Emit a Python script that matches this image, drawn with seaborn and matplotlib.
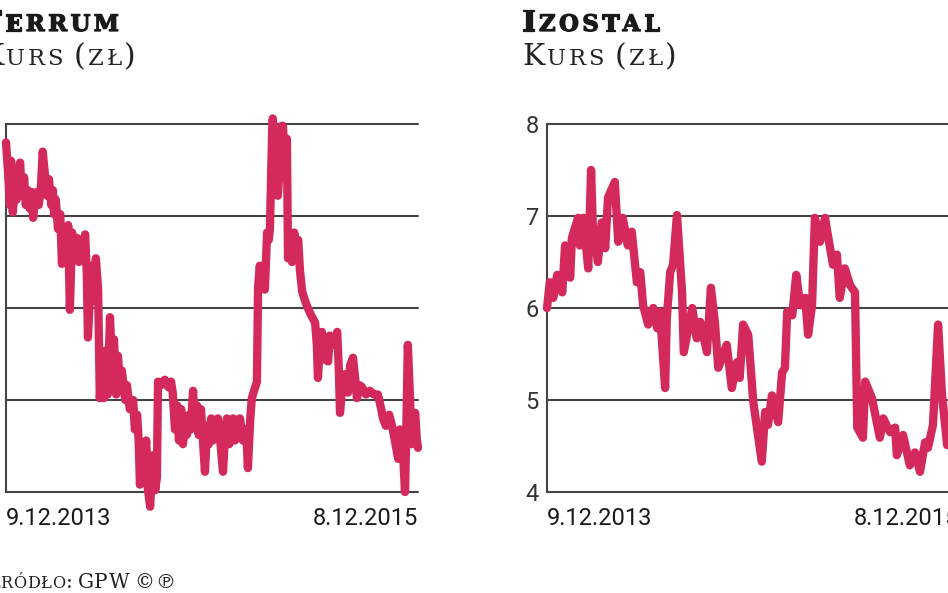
import pandas as pd
import matplotlib.pyplot as plt
import matplotlib.patheffects as pe
import seaborn as sns

# period shown on both charts
start = pd.Timestamp("2013-12-09")
end = pd.Timestamp("2015-12-08")
date_labels = ["9.12.2013", "8.12.2015"]

# Ferrum - days since 9.12.2013 and price (zl)
ferrum_days = [0, 4, 7, 9, 12, 16, 19, 23, 25, 28, 32, 35, 39, 42, 46, 48, 51, 55, 58, 62, 65,
               69, 73, 76, 80, 83, 85, 88, 92, 96, 99, 103, 106, 110, 113, 117, 122, 126, 129,
               133, 136, 140, 143, 145, 149, 152, 156, 159, 163, 166, 170, 173, 177, 180, 184,
               188, 191, 195, 198, 202, 205, 211, 214, 219, 225, 228, 232, 235, 237, 241, 244,
               248, 251, 255, 258, 260, 264, 267, 269, 274, 281, 287, 292, 295, 299, 303, 306,
               310, 313, 317, 320, 324, 327, 331, 334, 338, 341, 345, 349, 352, 356, 359, 363,
               366, 370, 375, 379, 384, 387, 391, 395, 398, 402, 405, 409, 414, 419, 425, 428,
               432, 435, 441, 444, 446, 449, 453, 457, 458, 462, 465, 467, 471, 472, 476, 480,
               481, 485, 488, 490, 494, 497, 499, 502, 506, 510, 513, 517, 520, 524, 529, 534,
               540, 547, 550, 552, 556, 559, 564, 570, 573, 579, 582, 586, 589, 591, 595, 600,
               605, 609, 614, 618, 621, 626, 630, 637, 644, 651, 658, 664, 667, 672, 678, 683,
               688, 694, 697, 702, 704, 706, 708, 711, 715, 717, 720, 724, 727, 729]
ferrum_price = [3.90, 3.72, 3.56, 3.80, 3.52, 3.67, 3.59, 3.75, 3.79, 3.61, 3.71, 3.56, 3.64,
                3.54, 3.63, 3.49, 3.59, 3.63, 3.56, 3.67, 3.85, 3.72, 3.61, 3.70, 3.56, 3.64,
                3.51, 3.59, 3.43, 3.51, 3.24, 3.42, 3.32, 3.45, 2.99, 3.41, 3.29, 3.38, 3.25,
                3.37, 3.27, 3.40, 3.18, 2.84, 3.10, 3.23, 3.04, 3.27, 3.10, 2.51, 2.72, 2.51,
                2.77, 2.53, 2.95, 2.64, 2.83, 2.53, 2.74, 2.58, 2.66, 2.50, 2.58, 2.45, 2.50,
                2.34, 2.42, 2.26, 2.04, 2.23, 2.12, 2.28, 2.02, 1.92, 2.12, 2.20, 2.01, 2.08,
                2.60, 2.58, 2.61, 2.57, 2.60, 2.54, 2.34, 2.47, 2.28, 2.45, 2.26, 2.39, 2.31,
                2.42, 2.34, 2.55, 2.36, 2.47, 2.31, 2.45, 2.26, 2.11, 2.36, 2.26, 2.40, 2.28,
                2.39, 2.40, 2.28, 2.11, 2.28, 2.40, 2.26, 2.34, 2.40, 2.28, 2.39, 2.40, 2.28,
                2.34, 2.13, 2.39, 2.51, 2.57, 2.60, 3.11, 3.23, 3.12, 3.18, 3.10, 3.41, 3.37,
                3.43, 3.97, 4.03, 3.86, 3.67, 3.61, 3.80, 3.99, 3.99, 3.72, 3.92, 3.27, 3.37,
                3.25, 3.41, 3.32, 3.37, 3.21, 3.09, 3.04, 3.00, 2.96, 2.92, 2.80, 2.62, 2.83,
                2.87, 2.72, 2.71, 2.85, 2.83, 2.80, 2.87, 2.66, 2.43, 2.58, 2.64, 2.54, 2.69,
                2.73, 2.61, 2.51, 2.58, 2.57, 2.53, 2.55, 2.53, 2.53, 2.45, 2.40, 2.36, 2.42,
                2.36, 2.28, 2.18, 2.34, 2.29, 2.12, 2.00, 2.28, 2.80, 2.50, 2.26, 2.39, 2.43,
                2.28, 2.24]

# Izostal - days since 9.12.2013 and price (zl)
izostal_days = [0, 5, 11, 18, 27, 32, 41, 44, 55, 58, 64, 73, 78, 81, 90, 97, 103, 108, 120,
                126, 134, 143, 150, 159, 165, 170, 179, 188, 195, 200, 209, 212, 218, 223, 230,
                239, 242, 257, 265, 271, 283, 290, 297, 303, 318, 327, 336, 341, 347, 356, 365,
                380, 386, 391, 398, 409, 416, 421, 425, 434, 441, 448, 457, 462, 469, 474, 483,
                492, 497, 506, 513, 518, 527, 536, 545, 549, 559, 563, 575, 589, 595, 607, 616,
                619, 630, 642, 651, 660, 669, 674, 683, 692, 699, 708, 729]
izostal_price = [6.00, 6.28, 6.11, 6.36, 6.17, 6.68, 6.33, 6.76, 6.98, 6.68, 6.98, 6.43, 7.50,
                 6.90, 6.50, 6.93, 6.65, 7.20, 7.37, 6.72, 6.98, 6.68, 6.83, 6.28, 6.39, 6.03,
                 5.82, 6.00, 5.78, 5.96, 5.13, 5.89, 6.39, 6.47, 7.01, 6.17, 5.52, 6.00, 5.67,
                 5.85, 5.52, 6.22, 5.85, 5.35, 5.60, 5.13, 5.41, 5.24, 5.82, 5.71, 4.98, 4.33,
                 4.87, 4.73, 5.05, 4.76, 5.30, 5.35, 5.96, 5.92, 6.36, 6.03, 6.11, 5.71, 6.03,
                 6.98, 6.72, 6.98, 6.79, 6.47, 6.58, 6.11, 6.43, 6.25, 6.17, 4.70, 4.59, 5.20,
                 5.02, 4.59, 4.80, 4.65, 4.70, 4.40, 4.62, 4.29, 4.43, 4.22, 4.54, 4.48, 4.73,
                 5.82, 5.05, 4.51, 4.60]

ferrum_ticks = [2.0, 2.5, 3.0, 3.5, 4.0]
izostal_ticks = [4, 5, 6, 7, 8]

RED = "#d42a5b"
GRID = "#444444"
W, H = 948, 593

sns.set_style("white")
plt.rcParams["font.family"] = ["Roboto", "DejaVu Sans"]

fig = plt.figure(figsize=(W / 100, H / 100), dpi=100)
ax1 = fig.add_axes([6 / W, 101 / H, 412 / W, 368 / H])
ax2 = fig.add_axes([547 / W, 101 / H, 412 / W, 368 / H])


def draw_panel(ax, days, price, ticks, show_y=True):
    df = pd.DataFrame({"date": start + pd.to_timedelta(days, unit="D"), "price": price})
    for t in ticks:
        ax.axhline(t, color=GRID, linewidth=1.5, clip_on=False, zorder=1)
    sns.lineplot(data=df, x="date", y="price", ax=ax, color=RED, linewidth=6,
                 clip_on=False, solid_joinstyle="round", solid_capstyle="round", zorder=3)
    ax.set_xlim(start, end)
    ax.set_ylim(ticks[0], ticks[-1])
    ax.set_yticks(ticks)
    if show_y:
        ax.set_yticklabels([f"{t:g}" for t in ticks])
    else:
        # the scale of this panel lies outside the cropped picture
        ax.set_yticklabels([])
    ax.set_xticks([start, end])
    ax.set_xticklabels(date_labels)
    xl = ax.get_xticklabels()
    xl[0].set_ha("left")
    xl[1].set_ha("right")
    ax.tick_params(axis="x", length=0, pad=11, labelsize=17, labelcolor="#1a1a1a")
    ax.tick_params(axis="y", length=0, pad=6, labelsize=17, labelcolor="#333333")
    for s in ["top", "right", "bottom"]:
        ax.spines[s].set_visible(False)
    ax.spines["left"].set_color(GRID)
    ax.spines["left"].set_linewidth(1.5)
    ax.set_xlabel("")
    ax.set_ylabel("")


draw_panel(ax1, ferrum_days, ferrum_price, ferrum_ticks, show_y=False)
draw_panel(ax2, izostal_days, izostal_price, izostal_ticks)

renderer = fig.canvas.get_renderer()


def smallcaps(x, y, text, size, weight="normal", color="#1a1a1a", ratio=0.76, gap=2.0,
              space=0.28, heavy=0.0):
    # fake small caps: lower case letters drawn as smaller capitals, one glyph at a time
    px = x
    effects = [pe.withStroke(linewidth=heavy, foreground=color)] if heavy else []
    for ch in text:
        if ch == " ":
            px += space * size * 100 / 72
            continue
        fs = size * ratio if ch.islower() else size
        t = fig.text(px / W, 1 - y / H, ch.upper(), fontsize=fs, fontweight=weight,
                     family=["DejaVu Serif", "DejaVu Sans"], color=color,
                     ha="left", va="baseline", path_effects=effects)
        px += t.get_window_extent(renderer).width + gap


smallcaps(-19, 31, "Ferrum", 21, weight="bold", gap=3.4, heavy=0.9, ratio=0.78)
smallcaps(-19, 65, "Kurs (zł)", 21.5, color="#222222", gap=2.6)
smallcaps(522, 31, "Izostal", 21, weight="bold", gap=3.4, heavy=0.9, ratio=0.78)
smallcaps(522, 65, "Kurs (zł)", 21.5, color="#222222", gap=2.6)
smallcaps(-14, 588, "Źródło: GPW ©℗", 14.5, color="#222222", ratio=0.8, gap=0.6, space=0.22)

fig.savefig("out.png", dpi=100)
